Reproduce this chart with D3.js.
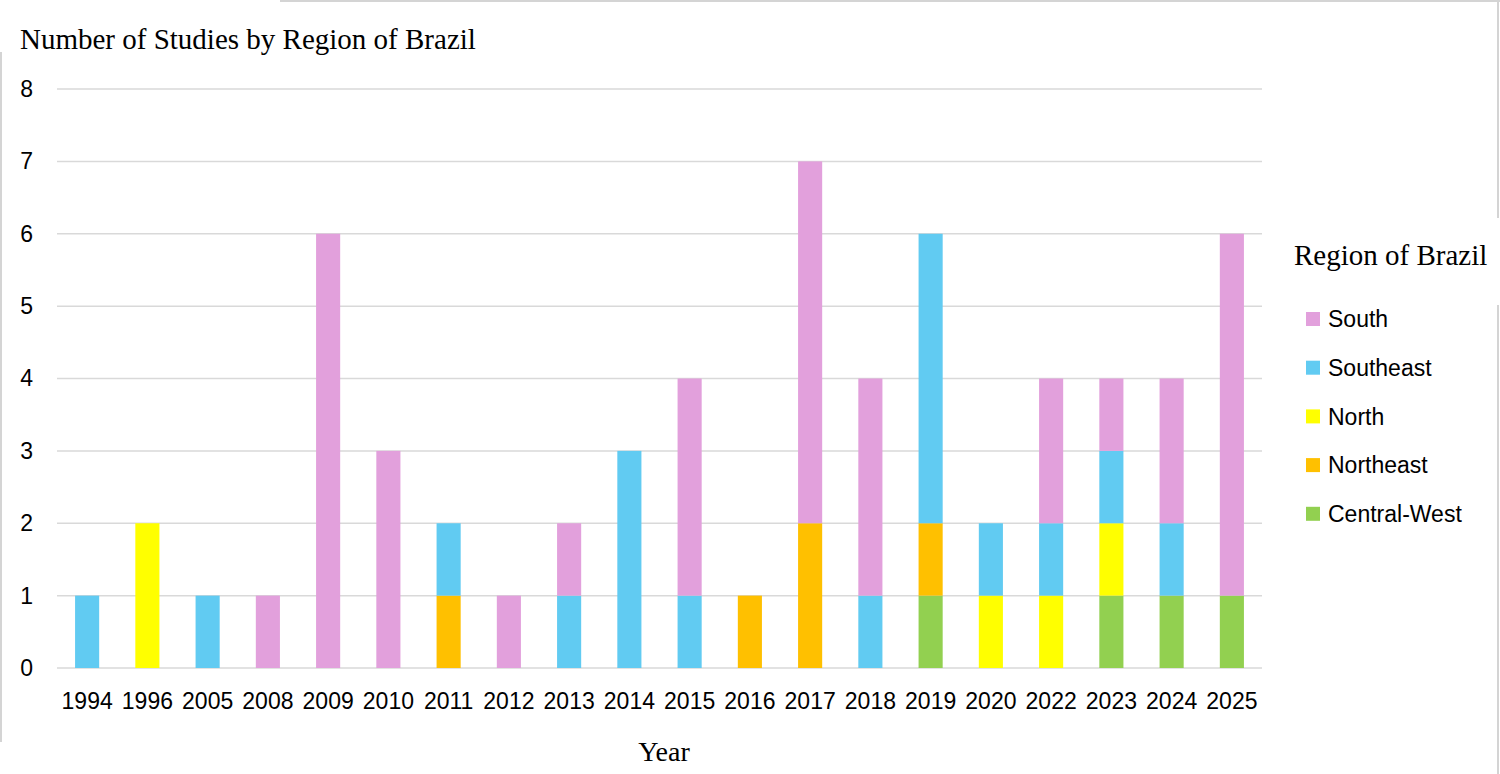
<!DOCTYPE html>
<meta charset="utf-8">
<head>
<style>
body { margin: 0; background: #fff; }
.tick text { font-family: "Liberation Sans", Arial, sans-serif; font-size: 23px; fill: #000; }
.serif { font-family: "Liberation Serif", "Times New Roman", serif; fill: #000; }
.legend text { font-family: "Liberation Sans", Arial, sans-serif; font-size: 23px; fill: #000; }
</style>
</head>
<body>
<script src="https://cdnjs.cloudflare.com/ajax/libs/d3/7.8.5/d3.min.js"></script>
<script>
// data
var years = ["1994","1996","2005","2008","2009","2010","2011","2012","2013","2014",
             "2015","2016","2017","2018","2019","2020","2022","2023","2024","2025"];
var centralWest = [0,0,0,0,0,0,0,0,0,0, 0,0,0,0,1,0,0,1,1,1];
var northeast   = [0,0,0,0,0,0,1,0,0,0, 0,1,2,0,1,0,0,0,0,0];
var north       = [0,2,0,0,0,0,0,0,0,0, 0,0,0,0,0,1,1,1,0,0];
var southeast   = [1,0,1,0,0,0,1,0,1,3, 1,0,0,1,4,1,1,1,1,0];
var south       = [0,0,0,1,6,3,0,1,1,0, 3,0,5,3,0,0,2,1,2,5];
var yTicks = [0,1,2,3,4,5,6,7,8];

// stack order bottom -> top, legend lists it reversed
var keys = ["Central-West","Northeast","North","Southeast","South"];
var colors = {"South":"#E2A0DC","Southeast":"#61CBF2","North":"#FFFF00","Northeast":"#FFC000","Central-West":"#92D050"};
var series = {"Central-West":centralWest,"Northeast":northeast,"North":north,"Southeast":southeast,"South":south};

var table = years.map(function(y, i) {
    var row = {year: y};
    keys.forEach(function(k) { row[k] = series[k][i]; });
    return row;
});

var width = 1500, height = 774;
var svg = d3.select("body").append("svg")
    .attr("width", width)
    .attr("height", height);

// faint frame lines seen round the original screenshot
var frame = [[280,1,1500,1],[1,52,1,742],[1498,0,1498,218],[1498,305,1498,774]];
svg.selectAll(".frame").data(frame).enter().append("line")
    .attr("x1", d => d[0]).attr("y1", d => d[1])
    .attr("x2", d => d[2]).attr("y2", d => d[3])
    .attr("stroke", "#d4d4d4").attr("stroke-width", 2);

var x = d3.scaleBand().domain(years).range([57, 1262]).paddingInner(0.6).paddingOuter(0.3);
var y = d3.scaleLinear().domain([0, 8]).range([668, 89]);

// gridlines
svg.append("g")
    .selectAll("line")
    .data(yTicks)
    .enter().append("line")
    .attr("x1", 57).attr("x2", 1262)
    .attr("y1", d => y(d)).attr("y2", d => y(d))
    .attr("stroke", "#d9d9d9").attr("stroke-width", 1.5);

var yaxis = d3.axisLeft(y).tickValues(yTicks).tickSize(0).tickPadding(0);
svg.append("g")
    .attr("transform", "translate(33,0)")
    .call(yaxis)
    .call(g => g.select(".domain").remove());

var xaxis = d3.axisBottom(x).tickSize(0).tickPadding(0);
svg.append("g")
    .attr("transform", "translate(0,668)")
    .call(xaxis)
    .call(g => g.select(".domain").remove())
    .selectAll("text").attr("dy", null).attr("y", 41);

var stacked = d3.stack().keys(keys)(table);

svg.append("g")
    .selectAll("g")
    .data(stacked)
    .enter().append("g")
    .attr("fill", d => colors[d.key])
    .selectAll("rect")
    .data(d => d.filter(s => s[1] > s[0]))
    .enter().append("rect")
    .attr("x", d => x(d.data.year))
    .attr("width", x.bandwidth())
    .attr("y", d => y(d[1]))
    .attr("height", d => y(d[0]) - y(d[1]));

// titles
svg.append("text").attr("class", "serif")
    .attr("x", 20).attr("y", 49)
    .style("font-size", "29px")
    .text("Number of Studies by Region of Brazil");

svg.append("text").attr("class", "serif")
    .attr("x", 664).attr("y", 761)
    .attr("text-anchor", "middle")
    .style("font-size", "28px")
    .text("Year");

// legend
var legend = svg.append("g").attr("class", "legend");
legend.append("text").attr("class", "serif")
    .attr("x", 1294).attr("y", 265)
    .style("font-family", "'Liberation Serif', 'Times New Roman', serif")
    .style("font-size", "29px")
    .text("Region of Brazil");

var items = legend.selectAll(".item")
    .data(keys.slice().reverse())
    .enter().append("g")
    .attr("transform", (d, i) => "translate(1306," + (319 + i * 48.7) + ")");
items.append("rect")
    .attr("x", 0).attr("y", -7).attr("width", 14).attr("height", 14)
    .attr("fill", d => colors[d]);
items.append("text")
    .attr("x", 22).attr("dy", "0.36em")
    .text(d => d);
</script>
</body>
</html>
